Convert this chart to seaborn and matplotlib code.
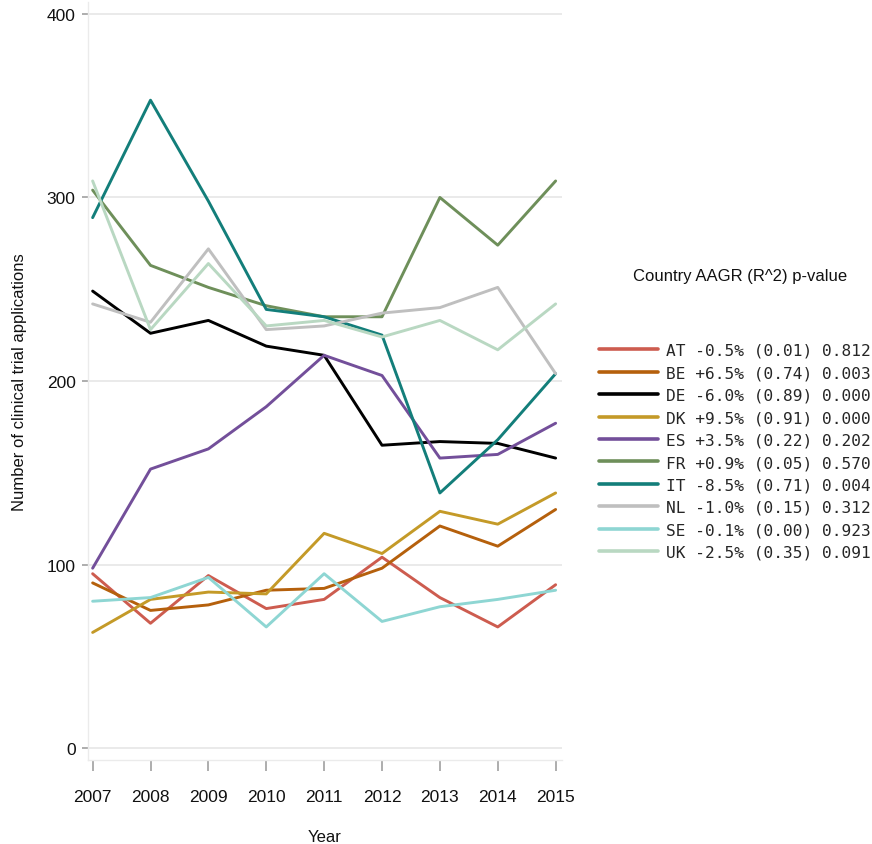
import matplotlib
matplotlib.use("Agg")
import matplotlib.pyplot as plt
import seaborn as sns
import pandas as pd
from matplotlib.lines import Line2D

years = [2007, 2008, 2009, 2010, 2011, 2012, 2013, 2014, 2015]
countries = ["AT", "BE", "DE", "DK", "ES", "FR", "IT", "NL", "SE", "UK"]

AT = [95, 68, 94, 76, 81, 104, 82, 66, 89]
BE = [90, 75, 78, 86, 87, 98, 121, 110, 130]
DE = [249, 226, 233, 219, 214, 165, 167, 166, 158]
DK = [63, 81, 85, 84, 117, 106, 129, 122, 139]
ES = [98, 152, 163, 186, 214, 203, 158, 160, 177]
FR = [304, 263, 251, 241, 235, 235, 300, 274, 309]
IT = [289, 353, 298, 239, 235, 225, 139, 168, 204]
NL = [242, 232, 272, 228, 230, 237, 240, 251, 204]
SE = [80, 82, 93, 66, 95, 69, 77, 81, 86]
UK = [309, 228, 264, 230, 233, 224, 233, 217, 242]

legend_labels = [
    "AT -0.5% (0.01) 0.812",
    "BE +6.5% (0.74) 0.003",
    "DE -6.0% (0.89) 0.000",
    "DK +9.5% (0.91) 0.000",
    "ES +3.5% (0.22) 0.202",
    "FR +0.9% (0.05) 0.570",
    "IT -8.5% (0.71) 0.004",
    "NL -1.0% (0.15) 0.312",
    "SE -0.1% (0.00) 0.923",
    "UK -2.5% (0.35) 0.091",
]
legend_title = "Country AAGR (R^2) p-value"
yticks = [0, 100, 200, 300, 400]

colors = ["#cd5c4f", "#b5600c", "#000000", "#c49a28", "#734f9a",
          "#6e8f5a", "#137e7a", "#bfbfbf", "#8ed6d3", "#b9d8c2"]

series = [AT, BE, DE, DK, ES, FR, IT, NL, SE, UK]
rows = []
for c, vals in zip(countries, series):
    for y, v in zip(years, vals):
        rows.append({"Year": y, "Country": c, "Value": v})
df = pd.DataFrame(rows)

sns.set_theme(style="white")
plt.rcParams["font.family"] = ["Liberation Sans", "DejaVu Sans"]

fig = plt.figure(figsize=(8.72, 8.45), dpi=100)
ax = fig.add_axes([88 / 872, 1 - 761 / 845, (562 - 88) / 872, (761 - 3) / 845])

sns.lineplot(data=df, x="Year", y="Value", hue="Country",
             palette=dict(zip(countries, colors)), linewidth=2.1,
             ax=ax, legend=False)

ax.set_xlim(2006.92, 2015.11)
ax.set_ylim(-6.5, 406.5)
ax.set_xticks(years)
ax.set_xticklabels([str(y) for y in years])
ax.set_yticks(yticks)
ax.yaxis.grid(True, color="#e6e6e6", linewidth=1.2)
ax.xaxis.grid(False)

for side in ["top", "right"]:
    ax.spines[side].set_visible(False)
for side in ["left", "bottom"]:
    ax.spines[side].set_color("#ebebeb")
    ax.spines[side].set_linewidth(1.0)

ax.tick_params(axis="x", which="major", bottom=True, length=8, width=1.2,
               color="#a0a0a0", pad=13, labelsize=12.5, labelcolor="#111111")
ax.tick_params(axis="y", which="major", left=True, length=4, width=1.2,
               color="#a0a0a0", pad=5, labelsize=12.5, labelcolor="#111111")

ax.set_xlabel("Year", fontsize=12, labelpad=18, color="#111111")
ax.set_ylabel("Number of clinical trial applications", fontsize=12,
              labelpad=14, color="#111111")

handles = [Line2D([0], [0], color=col, linewidth=2.6) for col in colors]
leg = fig.legend(handles, legend_labels, loc="upper left",
                 bbox_to_anchor=(599 / 872, 1 - 344 / 845),
                 borderaxespad=0, borderpad=0,
                 frameon=False, handlelength=3.65, handletextpad=0.5,
                 labelspacing=0.46,
                 prop={"family": "DejaVu Sans Mono", "size": 11.6})

fig.text(740 / 872, 1 - 276 / 845, legend_title, ha="center", va="center",
         fontsize=12, color="#111111")

fig.savefig("out.png", dpi=100)
